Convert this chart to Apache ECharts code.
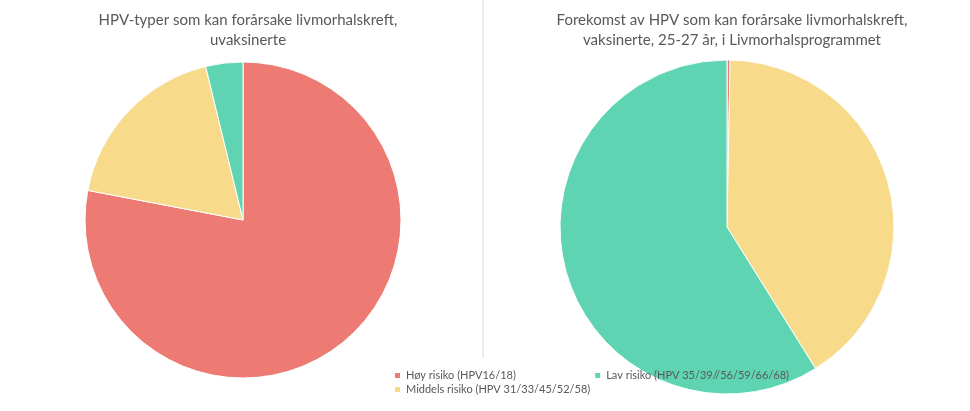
<!DOCTYPE html><html><head><meta charset="utf-8"><script src="https://cdn.jsdelivr.net/npm/echarts@6/dist/echarts.min.js"></script></head><body style="margin:0;background:#fff"><div id="c" style="width:970px;height:411px"></div><script>
const categories=["Høy risiko (HPV16/18)","Middels risiko (HPV 31/33/45/52/58)","Lav risiko (HPV 35/39//56/59/66/68)"];
const unvaccinated=[78.0,18.2,3.8];
const vaccinated=[0.3,40.8,58.9];
const colors=["#ED7B73","#F8DA8B","#5FD4B3"];
const titleLeft="HPV-typer som kan forårsake livmorhalskreft,\nuvaksinerte";
const titleRight="Forekomst av HPV som kan forårsake livmorhalskreft,\nvaksinerte, 25-27 år, i Livmorhalsprogrammet";
const ch=echarts.init(document.getElementById('c'));
const mk=v=>v.map((x,i)=>({name:categories[i],value:x}));
ch.setOption({
 color:colors,animation:false,
 title:[{text:titleLeft,left:243,top:5,textAlign:'center',textStyle:{fontFamily:'Lato',fontWeight:'normal',fontSize:15,color:'#595959',lineHeight:20}},
        {text:titleRight,left:727,top:5,textAlign:'center',textStyle:{fontFamily:'Lato',fontWeight:'normal',fontSize:15,color:'#595959',lineHeight:20}}],
 legend:{orient:'vertical',left:388,top:365,itemWidth:7,itemHeight:7,itemGap:3,icon:'rect',textStyle:{fontFamily:'Lato',fontSize:11,color:'#595959'}},
 graphic:[{type:'line',shape:{x1:483,y1:0,x2:483,y2:358},style:{stroke:'#d9d9d9',lineWidth:1}}],
 series:[
  {type:'pie',center:[243,220],radius:158,startAngle:90,clockwise:true,label:{show:false},labelLine:{show:false},itemStyle:{borderColor:'#fff',borderWidth:1},data:mk(unvaccinated)},
  {type:'pie',center:[727,227],radius:167,startAngle:90,clockwise:true,label:{show:false},labelLine:{show:false},itemStyle:{borderColor:'#fff',borderWidth:1},data:mk(vaccinated)}
 ]});
</script></body></html>
